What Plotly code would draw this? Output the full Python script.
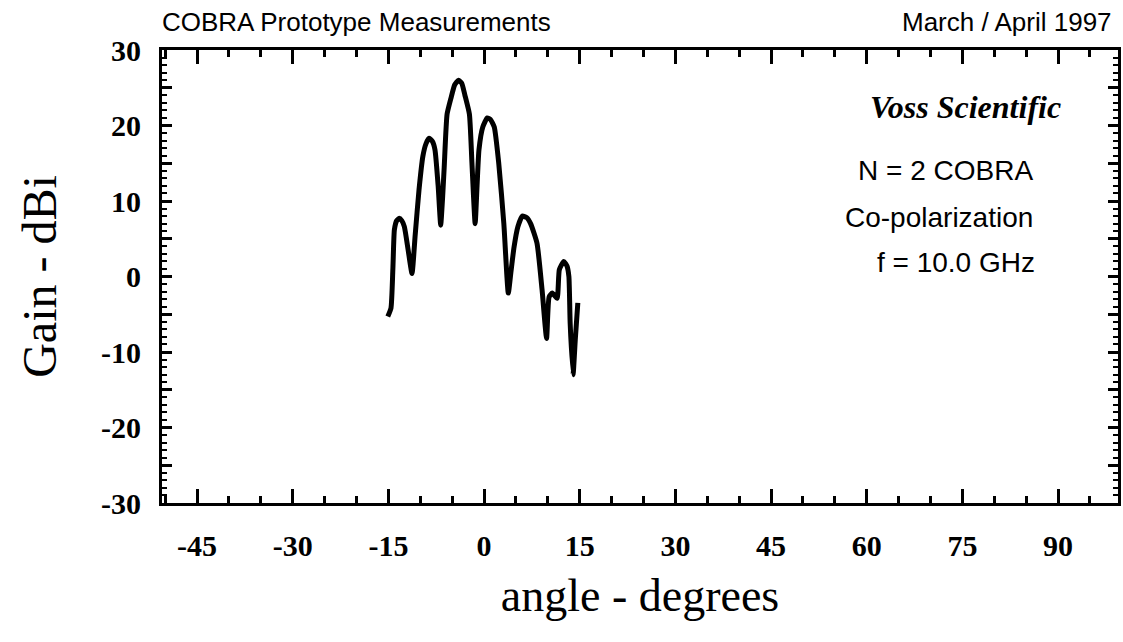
import plotly.graph_objects as go

angle_deg = [-15.1, -14.6, -14.3, -14.06, -13.7, -13.3, -12.9, -12.5, -11.9, -11.3,
             -10.8, -10.2, -9.6, -9.1, -8.6, -8.1, -7.7, -7.2, -6.8, -6.5, -6.25,
             -5.8, -5.2, -4.6, -4.0, -3.5, -3.0, -2.3, -1.9, -1.4, -1.1, -0.8,
             -0.2, 0.5, 1.0, 1.6, 2.3, 3.1, 3.8, 4.2, 4.7, 5.3, 6.0, 6.7, 7.3,
             8.3, 9.1, 9.8, 10.2, 10.7, 11.45, 11.8, 12.5, 13.0, 13.3, 13.5,
             13.95, 14.3, 14.7]
gain_dbi = [-5.3, -4.2, 1.0, 6.2, 7.4, 7.7, 7.4, 6.6, 3.5, 0.4,
            5.5, 11.5, 15.9, 17.6, 18.3, 17.9, 16.8, 12.0, 6.8, 10.5, 14.5,
            21.5, 23.6, 25.4, 26.0, 25.6, 24.0, 21.5, 15.0, 7.0, 12.0, 16.8,
            19.8, 21.0, 20.8, 19.8, 15.0, 7.0, -2.2, 0.5, 3.9, 6.6, 8.0, 7.8, 7.0,
            4.4, -1.8, -8.2, -2.7, -2.2, -2.9, 0.9, 2.0, 1.4, 0.0, -6.2,
            -13.0, -8.4, -3.5]

x_ticks = [-45, -30, -15, 0, 15, 30, 45, 60, 75, 90]
x_labels = ["-45", "-30", "-15", "0", "15", "30", "45", "60", "75", "90"]
y_ticks = [-30, -25, -20, -15, -10, -5, 0, 5, 10, 15, 20, 25, 30]
y_labels = ["-30", "", "-20", "", "-10", "", "0", "", "10", "", "20", "", "30"]

fig = go.Figure()
fig.add_trace(go.Scatter(x=angle_deg, y=gain_dbi, mode="lines",
                         line=dict(color="black", width=5, shape="spline", smoothing=0.5),
                         showlegend=False))

W, H = 1123, 642
ml, mr, mt, mb = 162, 2, 50, 139

tick_font = dict(family="Liberation Serif", size=30, color="black", weight="bold")

fig.update_layout(
    width=W, height=H,
    margin=dict(l=ml, r=mr, t=mt, b=mb),
    paper_bgcolor="white", plot_bgcolor="white",
    xaxis=dict(range=[-50.5, 99.4], tickvals=x_ticks, ticktext=x_labels, ticks="inside", ticklen=14,
               tickwidth=2.5, tickcolor="black", showline=True, linewidth=3, linecolor="black",
               mirror="ticks", showgrid=False, zeroline=False, ticklabelstandoff=14,
               minor=dict(tick0=0, dtick=5, ticks="inside", ticklen=7, tickwidth=2.5, tickcolor="black"),
               tickfont=tick_font,
               title=dict(text="angle - degrees", font=dict(family="Liberation Serif", size=46, color="black"),
                          standoff=18)),
    yaxis=dict(range=[-30, 30], tickvals=y_ticks, ticktext=y_labels, ticks="inside", ticklen=10,
               tickwidth=2.5, tickcolor="black", showline=True, linewidth=3, linecolor="black",
               mirror="ticks", showgrid=False, zeroline=False, ticklabelstandoff=12,
               minor=dict(tick0=0, dtick=1, ticks="inside", ticklen=5, tickwidth=2, tickcolor="black"),
               tickfont=tick_font,
               title=dict(text="Gain - dBi", font=dict(family="Liberation Serif", size=48, color="black"),
                          standoff=30)),
)

def px(x):
    return (x - ml) / (W - ml - mr)

def py(y):
    return (H - mb - y) / (H - mt - mb)

ann = [
    dict(text="COBRA Prototype Measurements", x=160, y=22, anchor="left",
         font=dict(family="Liberation Sans", size=26, color="black")),
    dict(text="March / April 1997", x=1117, y=22, anchor="right",
         font=dict(family="Liberation Sans", size=26, color="black")),
    dict(text="<i><b>Voss Scientific</b></i>", x=1066, y=107, anchor="right",
         font=dict(family="Liberation Serif", size=32, color="black")),
    dict(text="N = 2 COBRA", x=1038, y=170, anchor="right",
         font=dict(family="Liberation Sans", size=28, color="black")),
    dict(text="Co-polarization", x=1038, y=217, anchor="right",
         font=dict(family="Liberation Sans", size=28, color="black")),
    dict(text="f = 10.0 GHz", x=1040, y=262, anchor="right",
         font=dict(family="Liberation Sans", size=28, color="black")),
]
for a in ann:
    fig.add_annotation(text=a["text"], xref="paper", yref="paper", x=px(a["x"]), y=py(a["y"]),
                       xanchor=a["anchor"], yanchor="middle", showarrow=False, font=a["font"])

fig.write_html("out.html")
